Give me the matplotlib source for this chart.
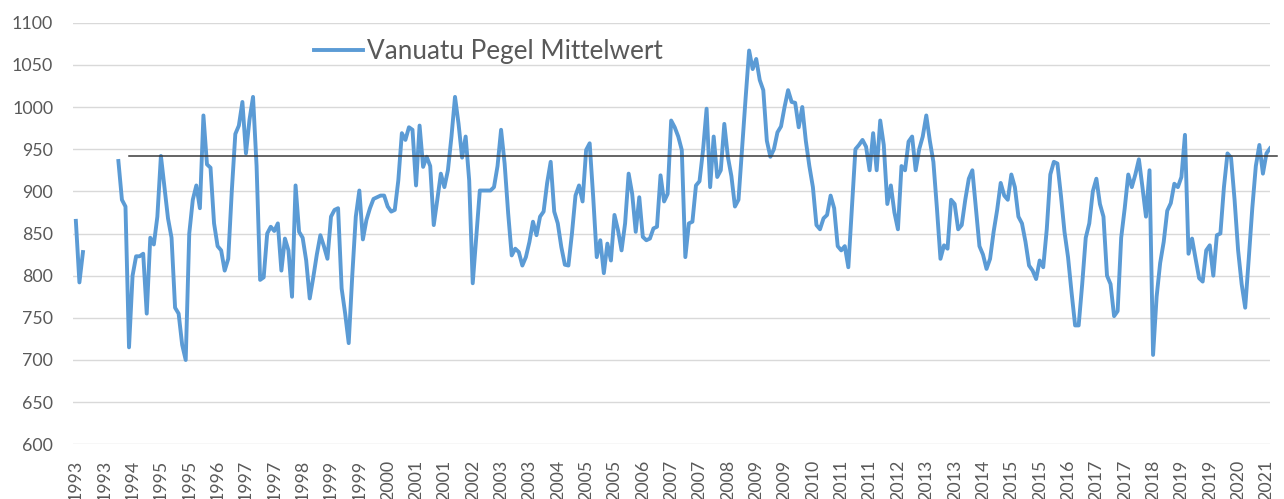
import matplotlib
matplotlib.use("Agg")
import matplotlib.pyplot as plt
import numpy as np

plt.rcParams['font.family'] = ['Lato', 'DejaVu Sans']

nan = np.nan
# monthly mean sea level, Vanuatu gauge (mm), one row per year from 1993
pegel_mm = [
    865, 792, 828, nan, nan, nan, nan, nan, nan, nan, nan, nan,          # 1993
    936, 890, 882, 715, 800, 823, 823, 826, 755, 845, 837, 870,          # 1994
    942, 905, 868, 845, 762, 755, 718, 700, 850, 890, 907, 880,          # 1995
    990, 932, 928, 862, 835, 830, 806, 820, 900, 968, 978, 1006,         # 1996
    945, 985, 1012, 930, 795, 798, 850, 858, 853, 862, 806, 844,         # 1997
    830, 775, 907, 852, 845, 818, 773, 798, 825, 848, 835, 820,          # 1998
    870, 878, 880, 785, 755, 720, 800, 870, 901, 843, 866, 880,          # 1999
    891, 893, 895, 895, 882, 876, 878, 913, 969, 961, 976, 973,          # 2000
    907, 978, 929, 941, 930, 860, 890, 921, 905, 925, 965, 1012,         # 2001
    980, 940, 965, 913, 791, 846, 901, 901, 901, 901, 905, 930,          # 2002
    973, 933, 874, 824, 832, 828, 812, 822, 840, 864, 848, 870,          # 2003
    876, 910, 935, 876, 862, 834, 813, 812, 850, 895, 907, 888,          # 2004
    949, 957, 893, 822, 842, 803, 838, 818, 872, 854, 830, 862,          # 2005
    921, 897, 852, 893, 846, 842, 844, 856, 858, 919, 888, 897,          # 2006
    984, 976, 965, 949, 822, 862, 864, 907, 912, 949, 998, 905,          # 2007
    965, 917, 925, 980, 941, 918, 882, 890, 950, 1010, 1067, 1045,       # 2008
    1057, 1032, 1020, 960, 941, 950, 970, 977, 1000, 1020, 1006, 1005,   # 2009
    976, 1000, 960, 930, 905, 860, 855, 868, 872, 895, 880, 835,         # 2010
    830, 835, 810, 880, 950, 955, 961, 953, 925, 969, 925, 984,          # 2011
    955, 885, 907, 875, 855, 930, 925, 959, 965, 925, 950, 965,          # 2012
    990, 960, 935, 880, 820, 836, 832, 890, 885, 855, 860, 890,          # 2013
    915, 925, 880, 835, 825, 808, 820, 852, 878, 910, 895, 890,          # 2014
    920, 905, 870, 862, 840, 812, 806, 796, 818, 810, 855, 920,          # 2015
    935, 933, 895, 852, 822, 780, 741, 741, 790, 845, 862, 900,          # 2016
    915, 885, 870, 800, 790, 752, 758, 845, 880, 920, 905, 920,          # 2017
    938, 905, 870, 925, 706, 775, 815, 840, 877, 886, 909, 905,          # 2018
    917, 967, 826, 844, 820, 797, 793, 830, 836, 800, 848, 850,          # 2019
    905, 945, 940, 890, 830, 790, 762, 820, 880, 930, 955, 921,          # 2020
    945, 951,                                                            # 2021
]
start_year = 1993
label_step = 8          # Excel date axis: one label every 8 months
mean_level = 942
mean_from, mean_to = 15, 339

months = np.arange(len(pegel_mm))
tick_pos = np.arange(0, 337, label_step)
tick_labels = [str(start_year + m // 12) for m in tick_pos]

fig = plt.figure(figsize=(12.84, 4.99), dpi=100)
ax = fig.add_axes([0.0566, 0.1096, 0.9325, 0.8449])

ax.plot(months, pegel_mm, color='#5b9bd5', linewidth=2.8,
        label='Vanuatu Pegel Mittelwert', solid_joinstyle='round')
ax.plot([mean_from, mean_to], [mean_level, mean_level], color='#3a3a3a',
        linewidth=1.1, clip_on=False)

ax.set_ylim(600, 1100)
ax.set_yticks(np.arange(600, 1101, 50))
ax.set_xlim(-0.9, 337)
ax.set_xticks(tick_pos)
ax.set_xticklabels(tick_labels, rotation=90)

ax.grid(axis='y', color='#d9d9d9', linewidth=1)
ax.set_axisbelow(True)
for s in ax.spines.values():
    s.set_visible(False)
ax.tick_params(axis='both', length=0, labelcolor='#595959', labelsize=12.8)
ax.tick_params(axis='y', pad=14)
ax.tick_params(axis='x', pad=11)

fig.legend(loc='center left', bbox_to_anchor=(0.2445, 0.8958), frameon=False,
           fontsize=18.8, handlelength=1.88, handletextpad=0.16,
           borderpad=0, borderaxespad=0, labelcolor='#595959')

fig.savefig('out.png', dpi=100)
